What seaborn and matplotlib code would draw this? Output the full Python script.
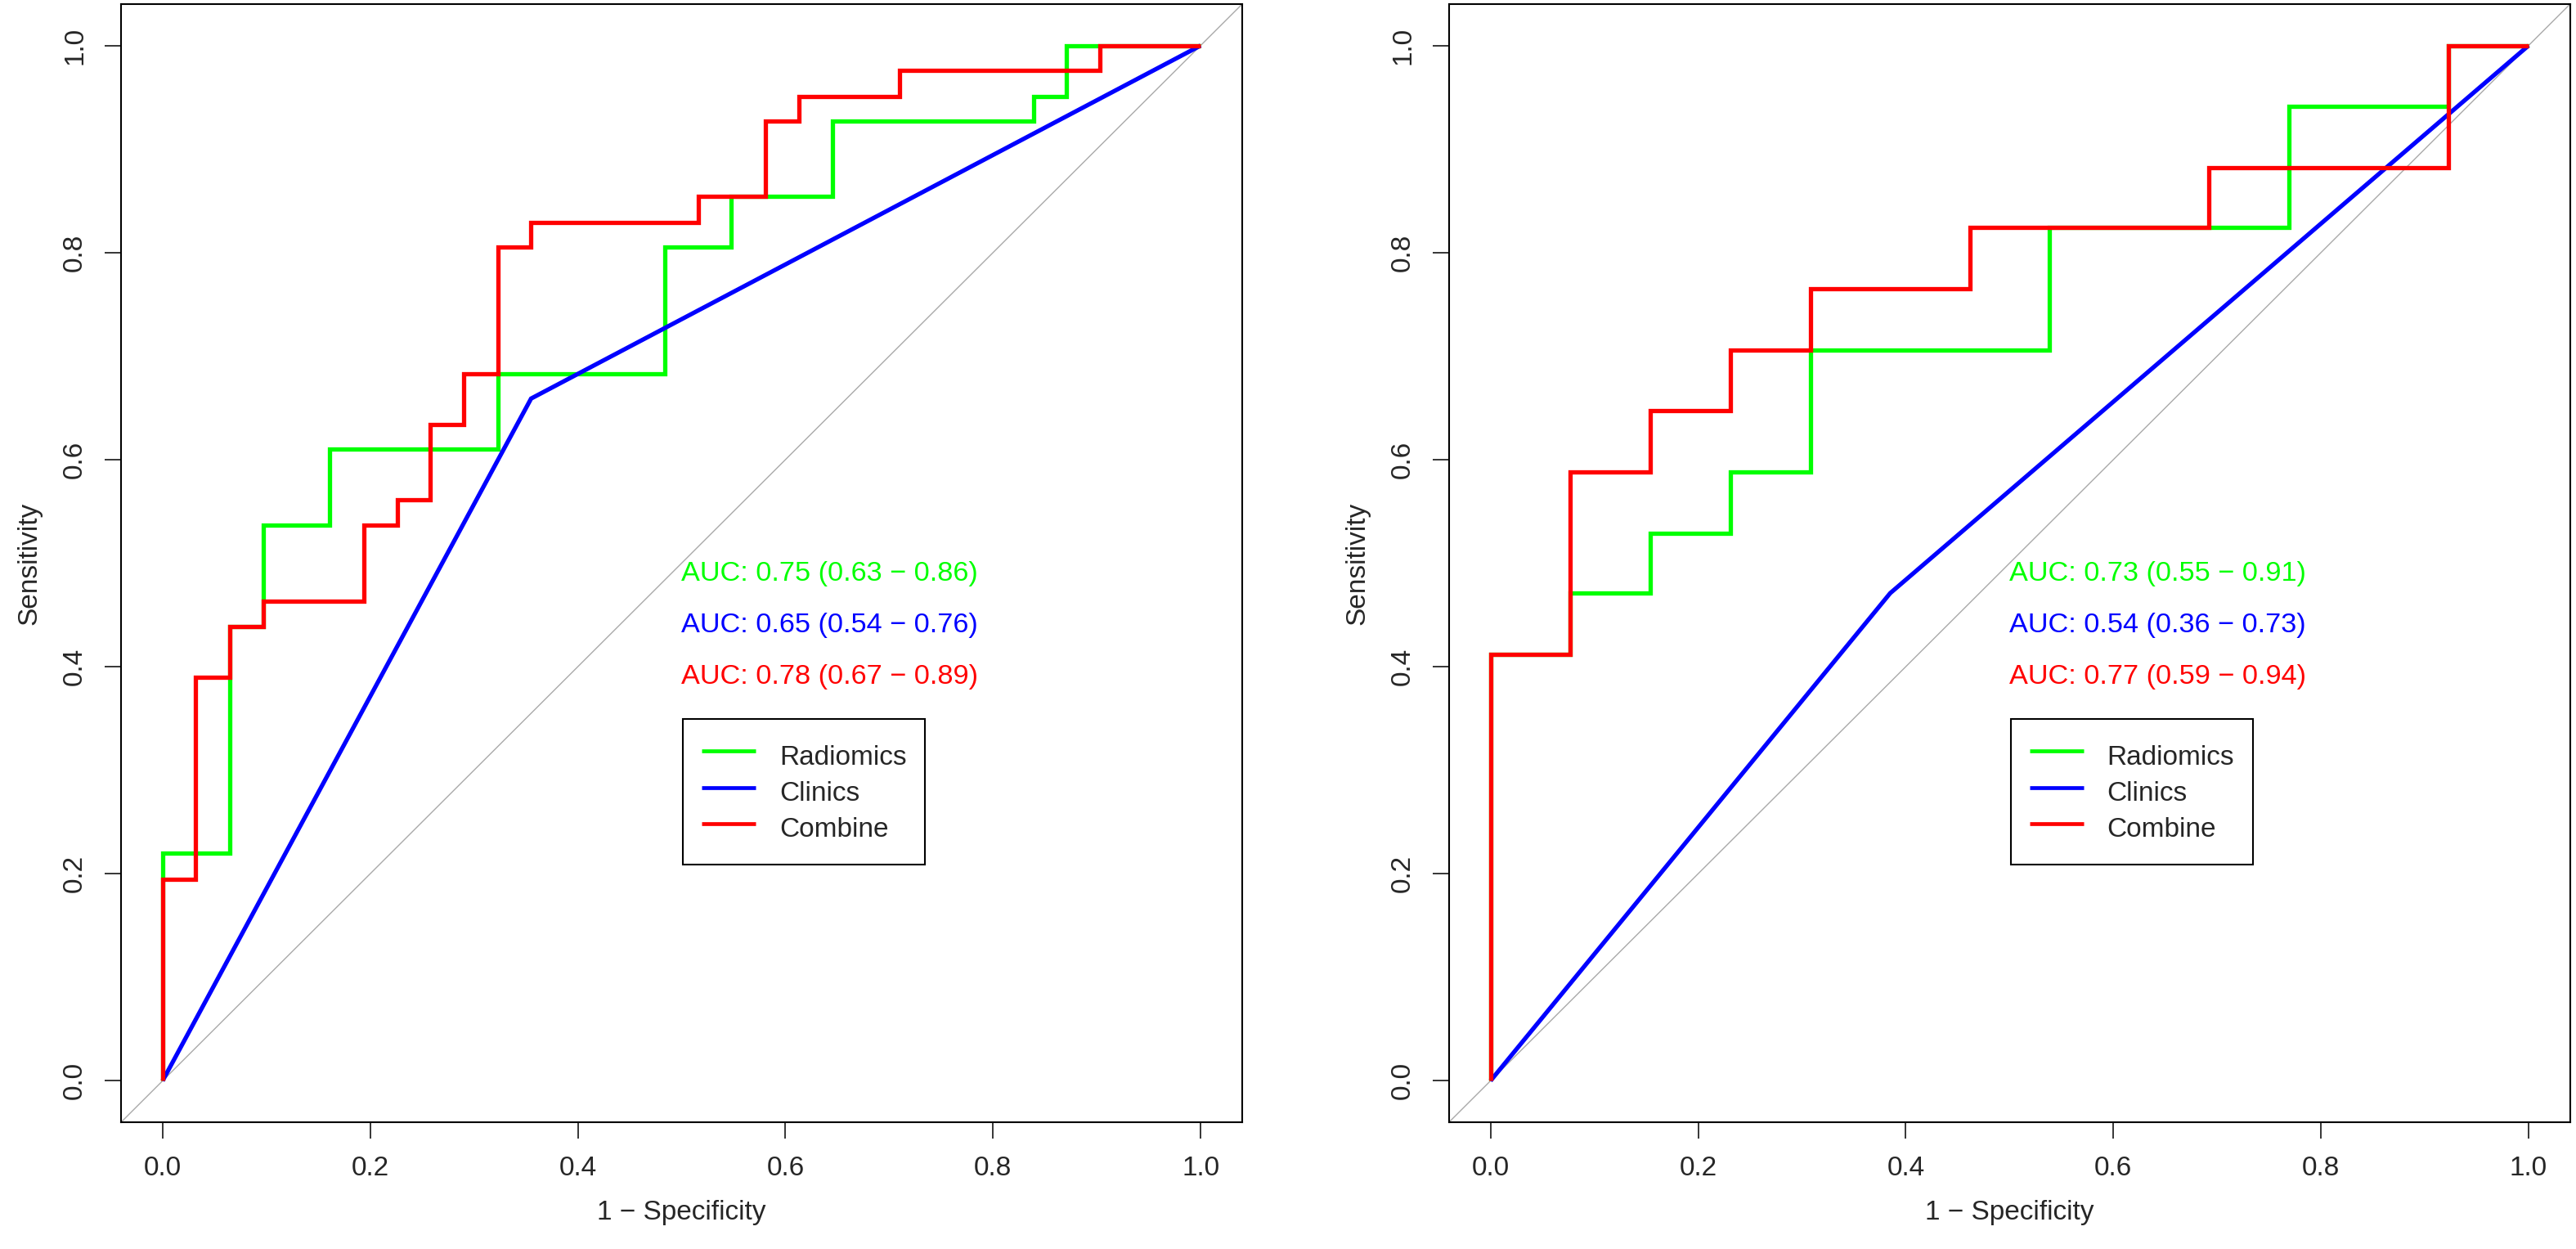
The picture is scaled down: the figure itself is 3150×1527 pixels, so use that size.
# ROC curves: Radiomics / Clinics / Combine, two cohorts side by side.

import matplotlib
matplotlib.use('Agg')
import matplotlib.pyplot as plt
import seaborn as sns

# Step vertices (1 - specificity, sensitivity).

# a. Left panel.

left_rad_fpr = [0.0, 0.0, 0.065, 0.065, 0.097, 0.097, 0.161, 0.161, 0.323, 0.323,
                0.484, 0.484, 0.548, 0.548, 0.645, 0.645, 0.839, 0.839, 0.871, 0.871, 1.0]
left_rad_tpr = [0.0, 0.220, 0.220, 0.439, 0.439, 0.537, 0.537, 0.610, 0.610, 0.683,
                0.683, 0.805, 0.805, 0.854, 0.854, 0.927, 0.927, 0.951, 0.951, 1.0, 1.0]

left_cli_fpr = [0.0, 0.355, 1.0]
left_cli_tpr = [0.0, 0.659, 1.0]

left_com_fpr = [0.0, 0.0, 0.032, 0.032, 0.065, 0.065, 0.097, 0.097, 0.194, 0.194,
                0.226, 0.226, 0.258, 0.258, 0.290, 0.290, 0.323, 0.323, 0.355, 0.355,
                0.516, 0.516, 0.581, 0.581, 0.613, 0.613, 0.710, 0.710, 0.903, 0.903, 1.0]
left_com_tpr = [0.0, 0.195, 0.195, 0.390, 0.390, 0.439, 0.439, 0.463, 0.463, 0.537,
                0.537, 0.561, 0.561, 0.634, 0.634, 0.683, 0.683, 0.805, 0.805, 0.829,
                0.829, 0.854, 0.854, 0.927, 0.927, 0.951, 0.951, 0.976, 0.976, 1.0, 1.0]

left_auc = ['AUC: 0.75 (0.63 \u2212 0.86)',
            'AUC: 0.65 (0.54 \u2212 0.76)',
            'AUC: 0.78 (0.67 \u2212 0.89)']

# b. Right panel.

right_rad_fpr = [0.0, 0.0, 0.077, 0.077, 0.154, 0.154, 0.231, 0.231, 0.308, 0.308,
                 0.538, 0.538, 0.769, 0.769, 0.923, 0.923, 1.0]
right_rad_tpr = [0.0, 0.412, 0.412, 0.471, 0.471, 0.529, 0.529, 0.588, 0.588, 0.706,
                 0.706, 0.824, 0.824, 0.941, 0.941, 1.0, 1.0]

right_cli_fpr = [0.0, 0.385, 1.0]
right_cli_tpr = [0.0, 0.471, 1.0]

right_com_fpr = [0.0, 0.0, 0.077, 0.077, 0.154, 0.154, 0.231, 0.231, 0.308, 0.308,
                 0.462, 0.462, 0.692, 0.692, 0.923, 0.923, 1.0]
right_com_tpr = [0.0, 0.412, 0.412, 0.588, 0.588, 0.647, 0.647, 0.706, 0.706, 0.765,
                 0.765, 0.824, 0.824, 0.882, 0.882, 1.0, 1.0]

right_auc = ['AUC: 0.73 (0.55 \u2212 0.91)',
             'AUC: 0.54 (0.36 \u2212 0.73)',
             'AUC: 0.77 (0.59 \u2212 0.94)']

model_names = ['Radiomics', 'Clinics', 'Combine']
model_colors = ['#00FF00', '#0000FF', '#FF0000']
ticks = [0.0, 0.2, 0.4, 0.6, 0.8, 1.0]
tick_labels = ['0.0', '0.2', '0.4', '0.6', '0.8', '1.0']
auc_y = [0.49, 0.44, 0.39]

# Style.

sns.set_style('ticks')
plt.rcParams['font.family'] = ['Liberation Sans', 'DejaVu Sans']
plt.rcParams['axes.unicode_minus'] = True


def draw_panel(ax, curves, auc_texts):
    for (fpr, tpr), name, col in zip(curves, model_names, model_colors):
        sns.lineplot(x=fpr, y=tpr, sort=False, estimator=None, color=col,
                     linewidth=3.8, label=name, ax=ax,
                     solid_joinstyle='miter', solid_capstyle='butt')
    ax.axline((0, 0), (1, 1), color='darkgrey', linewidth=1.0, zorder=0)

    for txt, yy, col in zip(auc_texts, auc_y, model_colors):
        ax.text(0.5, yy, txt, color=col, fontsize=24.7, ha='left', va='center')

    leg = ax.legend(loc='upper left', bbox_to_anchor=(0.501, 0.3495),
                    bbox_transform=ax.transData, borderaxespad=0,
                    fontsize=24, fancybox=False, framealpha=1,
                    edgecolor='black', borderpad=0.69, labelspacing=0.0,
                    handleheight=1.66, handlelength=1.98, handletextpad=0.87)
    leg.get_frame().set_linewidth(1.5)
    for line in leg.get_lines():
        line.set_linewidth(3.4)

    ax.set_xlim(-0.04, 1.04)
    ax.set_ylim(-0.04, 1.04)
    ax.set_xticks(ticks)
    ax.set_xticklabels(tick_labels)
    ax.set_yticks(ticks)
    ax.set_yticklabels(tick_labels, rotation=90, va='center')
    ax.tick_params(axis='both', length=14.4, width=1.1, pad=15,
                   labelsize=24, color='black', direction='out')
    ax.set_xlabel('1 \u2212 Specificity', fontsize=24, labelpad=16.5)
    ax.set_ylabel('Sensitivity', fontsize=24, labelpad=18)
    for side in ['left', 'right', 'top', 'bottom']:
        ax.spines[side].set_visible(True)
        ax.spines[side].set_color('black')
        ax.spines[side].set_linewidth(1.5)


fig = plt.figure(figsize=(31.5, 15.27), dpi=100)
ax1 = fig.add_axes([0.0470, 0.1015, 0.4352, 0.8952])
ax2 = fig.add_axes([0.5625, 0.1015, 0.4352, 0.8952])

draw_panel(ax1,
           [(left_rad_fpr, left_rad_tpr), (left_cli_fpr, left_cli_tpr),
            (left_com_fpr, left_com_tpr)],
           left_auc)
draw_panel(ax2,
           [(right_rad_fpr, right_rad_tpr), (right_cli_fpr, right_cli_tpr),
            (right_com_fpr, right_com_tpr)],
           right_auc)

fig.savefig('out.png', dpi=100, facecolor='white')
